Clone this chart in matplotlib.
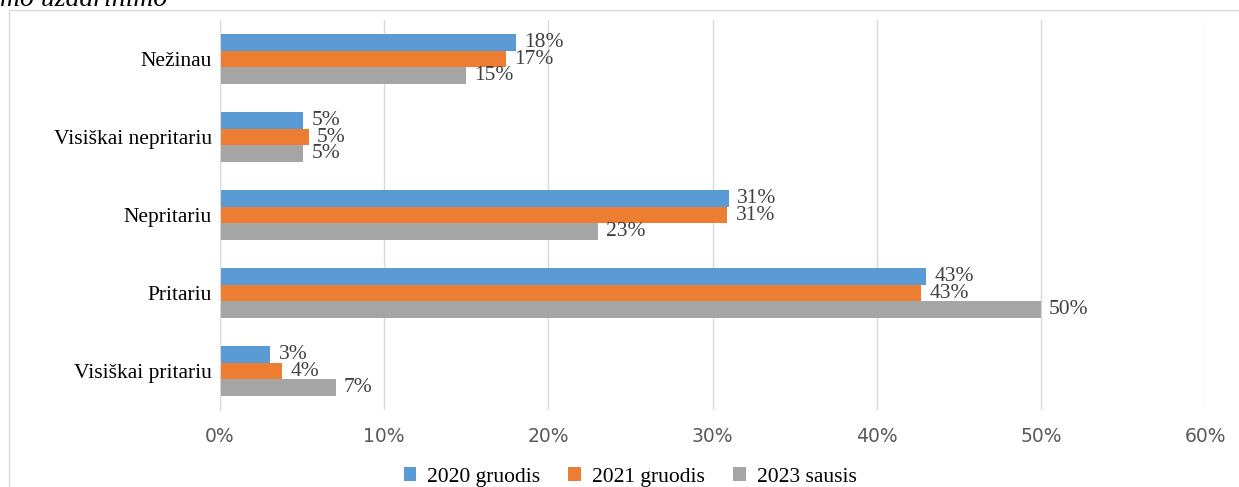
import matplotlib.pyplot as plt
from matplotlib.patches import Rectangle
import numpy as np

categories = ["Nežinau", "Visiškai nepritariu", "Nepritariu", "Pritariu", "Visiškai pritariu"]
series_names = ["2020 gruodis", "2021 gruodis", "2023 sausis"]
v2020 = [18.0, 5.05, 31.0, 43.0, 3.05]
v2021 = [17.4, 5.4, 30.9, 42.7, 3.8]
v2023 = [15.0, 5.05, 23.0, 50.0, 7.05]
colors = ["#5B9BD5", "#ED7D31", "#A5A5A5"]
xticks = [0, 10, 20, 30, 40, 50, 60]

fig = plt.figure(figsize=(12.39, 4.87), dpi=100)

# outer chart frame (cut off at right and bottom)
fig.patches.append(Rectangle((9 / 1239, -0.05), 1.1, 1 - 10 / 487 + 0.05,
                             transform=fig.transFigure, fill=False,
                             edgecolor="#D9D9D9", linewidth=1.0))
# clipped caption from the page above
fig.text(0.0, 1.0, "mo uždarinimo", fontsize=20, family="Liberation Serif",
         style="italic", color="#000000", ha="left", va="center")

ax = fig.add_axes([220 / 1239, 1 - 410 / 487, (1205 - 220) / 1239, (410 - 20) / 487])

y = np.arange(len(categories))
h = 0.213
for i, (vals, name) in enumerate(zip([v2020, v2021, v2023], series_names)):
    pos = y + (i - 1) * h
    ax.barh(pos, vals, height=h, color=colors[i], label=name, zorder=3)
    for p, v in zip(pos, vals):
        ax.annotate(f"{round(v)}%", (v, p), xytext=(6, 0), textcoords="offset points",
                    va="center", ha="left", fontsize=15.5, family="Liberation Serif",
                    color="#404040")

ax.set_ylim(len(categories) - 0.5, -0.5)
ax.set_xlim(0, 60)
ax.set_yticks(y)
ax.set_yticklabels(categories, fontsize=15.5, family="Liberation Serif")
ax.set_xticks(xticks)
ax.set_xticklabels([f"{t}%" for t in xticks], fontsize=13.5, color="#595959",
                   family="DejaVu Sans")
ax.tick_params(axis="both", length=0)
ax.tick_params(axis="x", pad=12)
ax.tick_params(axis="y", pad=6)
ax.grid(axis="x", color="#D9D9D9", linewidth=1.0, zorder=0)
for s in ["top", "right", "bottom"]:
    ax.spines[s].set_visible(False)
ax.spines["left"].set_color("#D9D9D9")
ax.spines["left"].set_zorder(4)

ax.legend(loc="center", bbox_to_anchor=(630 / 1239, 10 / 487), bbox_transform=fig.transFigure,
          ncol=3, frameon=False, handlelength=0.6, handleheight=0.6, handletextpad=0.5,
          columnspacing=1.3, prop={"family": "Liberation Serif", "size": 15.5})

fig.savefig("out.png", dpi=100)
